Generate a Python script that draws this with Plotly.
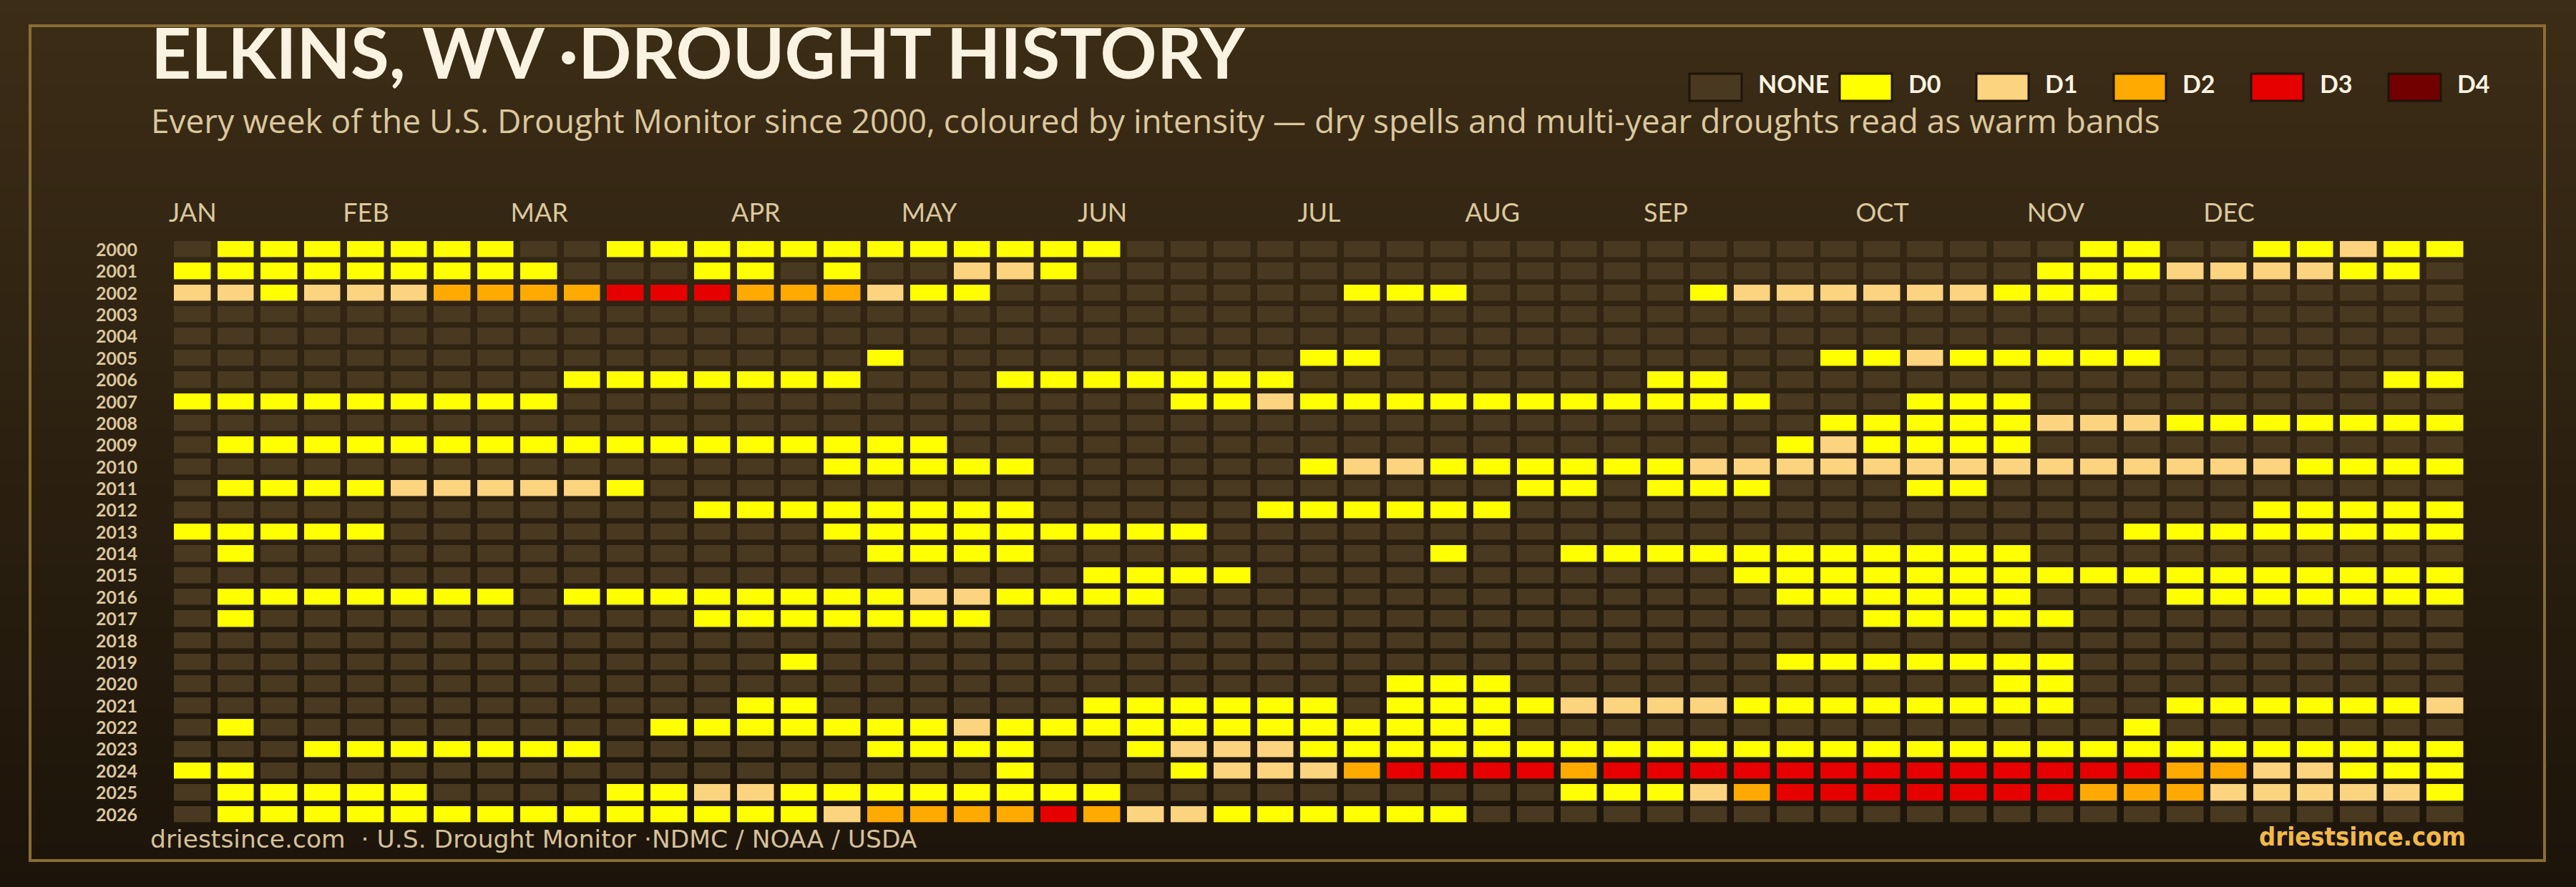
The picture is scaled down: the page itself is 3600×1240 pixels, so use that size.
import plotly.graph_objects as go

# ---------------- data ----------------
YEARS = list(range(2000, 2027))
N_WEEKS = 53
# Each year: runs of (drought level, number of consecutive weeks)
# level: 0=NONE, 1=D0, 2=D1, 3=D2, 4=D3, 5=D4
w2000 = [(0, 1), (1, 7), (0, 2), (1, 12), (0, 22), (1, 2), (0, 2), (1, 2), (2, 1), (1, 2)]
w2001 = [(1, 9), (0, 3), (1, 2), (0, 1), (1, 1), (0, 2), (2, 2), (1, 1), (0, 22), (1, 3), (2, 4), (1, 2), (0, 1)]
w2002 = [(2, 2), (1, 1), (2, 3), (3, 4), (4, 3), (3, 3), (2, 1), (1, 2), (0, 8), (1, 3), (0, 5), (1, 1), (2, 6), (1, 3), (0, 8)]
w2003 = [(0, 53)]
w2004 = [(0, 53)]
w2005 = [(0, 16), (1, 1), (0, 9), (1, 2), (0, 10), (1, 2), (2, 1), (1, 5), (0, 7)]
w2006 = [(0, 9), (1, 7), (0, 3), (1, 7), (0, 8), (1, 2), (0, 15), (1, 2)]
w2007 = [(1, 9), (0, 14), (1, 2), (2, 1), (1, 11), (0, 3), (1, 3), (0, 10)]
w2008 = [(0, 38), (1, 5), (2, 3), (1, 7)]
w2009 = [(0, 1), (1, 17), (0, 19), (1, 1), (2, 1), (1, 4), (0, 10)]
w2010 = [(0, 15), (1, 5), (0, 6), (1, 1), (2, 2), (1, 6), (2, 14), (1, 4)]
w2011 = [(0, 1), (1, 4), (2, 5), (1, 1), (0, 20), (1, 2), (0, 1), (1, 3), (0, 3), (1, 2), (0, 11)]
w2012 = [(0, 12), (1, 8), (0, 5), (1, 6), (0, 17), (1, 5)]
w2013 = [(1, 5), (0, 10), (1, 9), (0, 21), (1, 8)]
w2014 = [(0, 1), (1, 1), (0, 14), (1, 4), (0, 9), (1, 1), (0, 2), (1, 11), (0, 10)]
w2015 = [(0, 21), (1, 4), (0, 11), (1, 17)]
w2016 = [(0, 1), (1, 7), (0, 1), (1, 8), (2, 2), (1, 4), (0, 14), (1, 6), (0, 3), (1, 7)]
w2017 = [(0, 1), (1, 1), (0, 10), (1, 7), (0, 20), (1, 5), (0, 9)]
w2018 = [(0, 53)]
w2019 = [(0, 14), (1, 1), (0, 22), (1, 7), (0, 9)]
w2020 = [(0, 28), (1, 3), (0, 11), (1, 2), (0, 9)]
w2021 = [(0, 13), (1, 2), (0, 6), (1, 6), (0, 1), (1, 4), (2, 4), (1, 8), (0, 2), (1, 6), (2, 1)]
w2022 = [(0, 1), (1, 1), (0, 9), (1, 7), (2, 1), (1, 12), (0, 14), (1, 1), (0, 7)]
w2023 = [(0, 3), (1, 7), (0, 6), (1, 4), (0, 2), (1, 1), (2, 3), (1, 27)]
w2024 = [(1, 2), (0, 17), (1, 1), (0, 3), (1, 1), (2, 3), (3, 1), (4, 4), (3, 1), (4, 13), (3, 2), (2, 2), (1, 3)]
w2025 = [(0, 1), (1, 5), (0, 4), (1, 2), (2, 2), (1, 8), (0, 10), (1, 3), (2, 1), (3, 1), (4, 7), (3, 3), (2, 5), (1, 1)]
w2026 = [(0, 1), (1, 14), (2, 1), (3, 4), (4, 1), (3, 1), (2, 2), (1, 6), (0, 23)]

RUNS = [w2000, w2001, w2002, w2003, w2004, w2005, w2006, w2007, w2008, w2009,
        w2010, w2011, w2012, w2013, w2014, w2015, w2016, w2017, w2018, w2019,
        w2020, w2021, w2022, w2023, w2024, w2025, w2026]

LEVELS = ["NONE", "D0", "D1", "D2", "D3", "D4"]
LEVEL_COLORS = ["#483920", "#ffff00", "#fcd37f", "#ffaa00", "#e60000", "#730000"]

MONTHS = ["JAN", "FEB", "MAR", "APR", "MAY", "JUN", "JUL", "AUG", "SEP", "OCT", "NOV", "DEC"]
MONTH_WEEK = [0, 4, 8, 13, 17, 21, 26, 30, 34, 39, 43, 47]

TITLE = "ELKINS, WV ·DROUGHT HISTORY"
SUBTITLE = ("Every week of the U.S. Drought Monitor since 2000, coloured by intensity "
            "— dry spells and multi-year droughts read as warm bands")
SOURCE = "driestsince.com  · U.S. Drought Monitor ·NDMC / NOAA / USDA"
BRAND = "driestsince.com"

# ---------------- build matrix ----------------
z = []
for runs in RUNS:
    row = []
    for level, n in runs:
        row.extend([level] * n)
    assert len(row) == N_WEEKS, len(row)
    z.append(row)

W, H = 3600, 1240
L, R, T, B = 239, 152, 334, 86
PW, PH = W - L - R, H - T - B


def px(x):
    return (x - L) / PW


def py(y):
    return (H - B - y) / PH


# discrete colorscale
nlev = len(LEVELS)
cs = []
for i, c in enumerate(LEVEL_COLORS):
    cs.append([i / nlev, c])
    cs.append([(i + 1) / nlev, c])

year_labels = [str(y) for y in YEARS]

fig = go.Figure(go.Heatmap(
    z=z,
    x=list(range(N_WEEKS)),
    y=year_labels,
    colorscale=cs, zmin=-0.5, zmax=nlev - 0.5,
    showscale=False, xgap=9.5, ygap=7.6,
    hovertemplate="%{y} week %{x}<extra></extra>",
))

TAN = "#dcc79d"
CREAM = "#fbf3e1"

fig.update_layout(
    width=W, height=H, autosize=False,
    margin=dict(l=L, r=R, t=T, b=B, pad=0),
    paper_bgcolor="#2b2010", plot_bgcolor="rgba(0,0,0,0)",
    showlegend=False,
    xaxis=dict(range=[-0.5, N_WEEKS - 0.5], side="top", tickmode="array",
               tickvals=MONTH_WEEK, ticktext=MONTHS, showgrid=False, zeroline=False,
               ticks="", ticklabelstandoff=16, showline=False,
               tickfont=dict(family="Lato", size=36, color=TAN)),
    yaxis=dict(type="category", autorange="reversed", showgrid=False, zeroline=False,
               tickmode="array", tickvals=year_labels, ticktext=year_labels,
               ticks="", ticklabelstandoff=46, showline=False,
               tickfont=dict(family="Lato", size=25, color=TAN, weight=700)),
)

shapes = []
# vertical gradient background
top = (60, 45, 22)
bot = (28, 20, 10)
nb = 124
for i in range(nb):
    f = (i + 0.5) / nb
    col = tuple(round(top[k] + (bot[k] - top[k]) * f) for k in range(3))
    shapes.append(dict(type="rect", xref="paper", yref="paper", layer="below",
                       x0=px(0), x1=px(W), y0=py(i * H / nb), y1=py((i + 1) * H / nb + 1),
                       fillcolor="rgb(%d,%d,%d)" % col, line=dict(width=0)))
# frame
shapes.append(dict(type="rect", xref="paper", yref="paper", layer="below",
                   x0=px(42), x1=px(3556), y0=py(36), y1=py(1203),
                   line=dict(color="#8a6d35", width=4), fillcolor="rgba(0,0,0,0)"))

annotations = []
# legend
LEG_X = [2361, 2571, 2762, 2954, 3146, 3338]
for i, (name, col) in enumerate(zip(LEVELS, LEVEL_COLORS)):
    x0 = LEG_X[i]
    shapes.append(dict(type="rect", xref="paper", yref="paper",
                       x0=px(x0), x1=px(x0 + 73), y0=py(103), y1=py(141),
                       fillcolor=col, line=dict(color="#1e1508", width=3)))
    annotations.append(dict(xref="paper", yref="paper", x=px(x0 + 94), y=py(116),
                            xanchor="left", yanchor="middle", showarrow=False, text=name,
                            font=dict(family="Lato", size=34, color=CREAM, weight=700)))

annotations += [
    dict(xref="paper", yref="paper", x=px(209), y=py(72), xanchor="left", yanchor="middle",
         showarrow=False, text=TITLE,
         font=dict(family="Lato", size=98, color=CREAM, weight=700)),
    dict(xref="paper", yref="paper", x=px(209), y=py(168), xanchor="left", yanchor="middle",
         showarrow=False, text=SUBTITLE,
         font=dict(family="Open Sans", size=46, color=TAN)),
    dict(xref="paper", yref="paper", x=px(208), y=py(1173), xanchor="left", yanchor="middle",
         showarrow=False, text=SOURCE,
         font=dict(family="DejaVu Sans", size=34.5, color="#d6c199")),
    dict(xref="paper", yref="paper", x=px(3448), y=py(1169), xanchor="right", yanchor="middle",
         showarrow=False, text=BRAND,
         font=dict(family="DejaVu Sans Condensed", size=36, color="#f2b947", weight=700)),
]

fig.update_layout(shapes=shapes, annotations=annotations)
fig.write_html("out.html")
